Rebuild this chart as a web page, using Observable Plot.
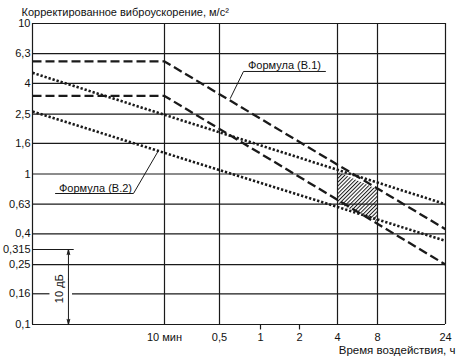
<!DOCTYPE html>
<html><head><meta charset="utf-8">
<script src="https://cdn.jsdelivr.net/npm/d3@7"></script>
<script src="https://cdn.jsdelivr.net/npm/@observablehq/plot@0.6"></script>
<style>body{margin:0;background:#fff} svg{display:block}</style>
</head><body><div id="chart"></div>
<script>
const title = "Корректированное виброускорение, м/с²";
const xLabel = "Время воздействия, ч";
const xTicks = [1/6, 0.5, 1, 2, 4, 8, 24];
const xTickLabels = ["10 мин", "0,5", "1", "2", "4", "8", "24"];
const xGrid = [1/60, 1/6, 0.5, 4, 8, 24];
const xMinorTicks = [1, 2];
const yTicks = [0.1, 0.16, 0.25, 0.315, 0.4, 0.63, 1, 1.6, 2.5, 4, 6.3, 10];
const yTickLabels = ["0,1", "0,16", "0,25", "0,315", "0,4", "0,63", "1", "1,6", "2,5", "4", "6,3", "10"];
const yGrid = [0.1, 0.25, 0.4, 0.63, 1, 1.6, 2.5, 4, 6.3, 10];
const timeB1 = [1/60, 1/6, 24];
const b1Upper = [5.6, 5.6, 0.43];
const b1Lower = [3.3, 3.3, 0.25];
const timeB2 = [1/60, 24];
const b2Upper = [4.7, 0.63];
const b2Lower = [2.6, 0.36];
const zoneTime = [4, 8];
const zoneTop = [1.03, 0.79];
const zoneBottom = [0.64, 0.48];
const labelB1 = "Формула (В.1)";
const labelB2 = "Формула (В.2)";
const dbLabel = "10 дБ";
const dbRange = [0.315, 0.1];

const pts = (xs, ys) => xs.map((x, i) => ({x, y: ys[i]}));
const ink = "#1a1a1a";
const grid = {stroke: ink, strokeWidth: 1.2};
const dashed = {x: "x", y: "y", stroke: ink, strokeWidth: 2.3, strokeDasharray: "9,4", strokeLinecap: "butt"};
const dotted = {x: "x", y: "y", stroke: ink, strokeWidth: 2.6, strokeDasharray: "2.3,1.9", strokeLinecap: "butt"};

const chart = Plot.plot({
  width: 456,
  height: 360,
  marginTop: 23,
  marginLeft: 32,
  marginRight: 11,
  marginBottom: 36,
  style: {fontFamily: "'Liberation Sans', Arial, sans-serif", fontSize: "11px", color: "#111", background: "#fff"},
  x: {type: "log", domain: [1/60, 1/6, 0.5, 1, 2, 4, 8, 24], range: [32, 164, 219, 260, 299, 337, 377, 445], axis: null},
  y: {type: "log", domain: [0.1, 10], axis: null},
  marks: [
    Plot.ruleX(xGrid, {y1: 0.1, y2: 10, ...grid}),
    Plot.ruleY(yGrid, {x1: 1/60, x2: 24, ...grid}),
    Plot.ruleY([0.16], {x1: 1/60, x2: 0.0226, ...grid}),
    Plot.ruleY([0.16], {x1: 0.0335, x2: 24, ...grid}),
    Plot.ruleY([0.315], {x1: 1/60, x2: 0.0345, ...grid}),
    Plot.ruleX(xMinorTicks, {y1: 0.1, y2: 0.092, ...grid}),
    Plot.areaY(zoneTime.map((t, i) => ({t, top: zoneTop[i], bot: zoneBottom[i]})),
      {x: "t", y1: "bot", y2: "top", fill: "url(#hatch)"}),
    Plot.line(pts(timeB1, b1Upper), dashed),
    Plot.line(pts(timeB1, b1Lower), dashed),
    Plot.line(pts(timeB2, b2Upper), dotted),
    Plot.line(pts(timeB2, b2Lower), dotted),
    // label B.1
    Plot.line([{x: 0.60, y: 3.18}, {x: 0.75, y: 4.8}, {x: 3.21, y: 4.8}], {x: "x", y: "y", stroke: ink, strokeWidth: 1}),
    Plot.text([labelB1], {x: 1.53, y: 4.8, dy: -2, lineAnchor: "bottom", textAnchor: "middle", fill: "#111"}),
    // label B.2
    Plot.line([{x: 0.150, y: 1.43}, {x: 0.097, y: 0.742}, {x: 0.0249, y: 0.742}], {x: "x", y: "y", stroke: ink, strokeWidth: 1}),
    Plot.text([labelB2], {x: 0.05, y: 0.742, dy: -2, lineAnchor: "bottom", textAnchor: "middle", fill: "#111"}),
    // 10 dB
    Plot.arrow([{y1: 0.2, y2: dbRange[0]}, {y1: 0.2, y2: dbRange[1]}],
      {x: 0.0312, y1: "y1", y2: "y2", stroke: ink, strokeWidth: 1, headLength: 8, headAngle: 28}),
    Plot.text([dbLabel], {x: 0.0267, y: 0.173, rotate: -90, textAnchor: "middle", lineAnchor: "middle", fill: "#111"}),
    // tick labels
    Plot.text(xTicks, {x: d => d, y: 0.1, text: (d, i) => xTickLabels[i], dy: 13, lineAnchor: "middle", textAnchor: "middle", fill: "#111"}),
    Plot.text(yTicks, {x: 1/60, y: d => d, text: (d, i) => yTickLabels[i], dx: -2, textAnchor: "end", lineAnchor: "middle", fill: "#111"}),
    Plot.text([title], {frameAnchor: "top-left", dx: -11, dy: -11, textAnchor: "start", lineAnchor: "middle", fill: "#111"}),
    Plot.text([xLabel], {frameAnchor: "bottom-right", dx: 10, dy: 25.5, textAnchor: "end", lineAnchor: "middle", fontSize: 11.5, fill: "#111"})
  ]
});

const svg = d3.select(chart);
const defs = svg.insert("defs", ":first-child");
const pat = defs.append("pattern")
  .attr("id", "hatch").attr("patternUnits", "userSpaceOnUse")
  .attr("width", 2.7).attr("height", 10).attr("patternTransform", "rotate(45)");
pat.append("line").attr("x1", 0.5).attr("y1", 0).attr("x2", 0.5).attr("y2", 10)
  .attr("stroke", ink).attr("stroke-width", 1);
document.getElementById("chart").appendChild(chart);
</script>
</body></html>
